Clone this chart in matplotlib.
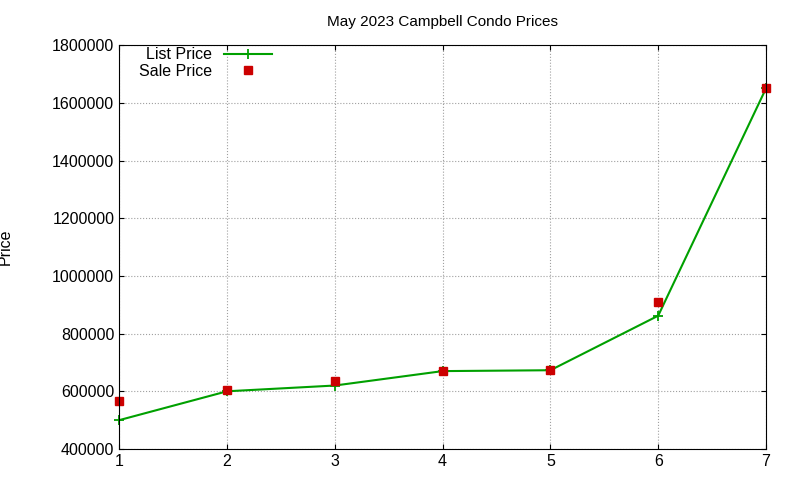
import matplotlib.pyplot as plt

days = [1, 2, 3, 4, 5, 6, 7]
list_price = [500000, 600000, 620000, 670000, 673000, 862000, 1650000]
sale_price = [566000, 604000, 636000, 670000, 675000, 910000, 1650000]

plt.rcParams['font.family'] = ['Liberation Sans', 'DejaVu Sans']
fig = plt.figure(figsize=(8, 4.8), dpi=100)
ax = fig.add_axes([0.149, 0.0646, 0.8085, 0.8414])

ax.plot(days, list_price, color='#00a000', lw=1.5, marker='+', ms=7, mew=1.3,
        label='List Price', clip_on=False)
ax.plot(days, sale_price, ls='none', marker='s', color='#cc0000', ms=6,
        label='Sale Price', clip_on=False)

ax.set_xlim(1, 7)
ax.set_ylim(400000, 1800000)
ax.set_yticks(range(400000, 1800001, 200000))
ax.ticklabel_format(axis='y', style='plain')
ax.grid(True, color='#a0a0a0', ls=':', lw=0.8)
ax.tick_params(direction='in', labelsize=11.5, top=True, right=True)
ax.set_ylabel('Price', fontsize=11.5)
ax.yaxis.set_label_coords(-0.165, 0.5)
ax.set_title('May 2023 Campbell Condo Prices', fontsize=11, pad=14)
ax.legend(loc='upper left', frameon=False, markerfirst=False, fontsize=11.5,
          borderaxespad=0.0, handlelength=3, labelspacing=0.1, bbox_to_anchor=(0.02, 1.01))

fig.savefig('out.png')
